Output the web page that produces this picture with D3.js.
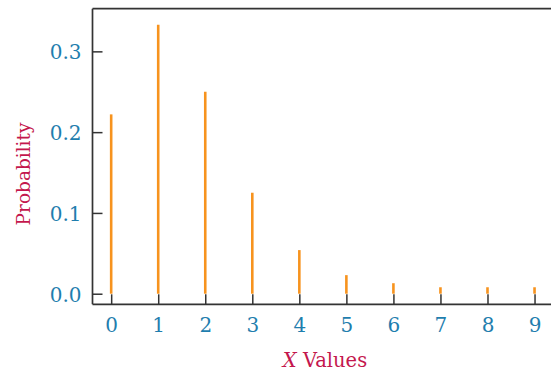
<!DOCTYPE html>
<html>
<head>
<meta charset="utf-8">
<script src="https://cdn.jsdelivr.net/npm/d3@7"></script>
<style>
  html, body { margin: 0; padding: 0; background: #fff; }
  svg { display: block; }
</style>
</head>
<body>
<svg id="chart" width="551" height="373"></svg>
<script>
const xValues = [0, 1, 2, 3, 4, 5, 6, 7, 8, 9];
const probabilities = [0.222, 0.333, 0.25, 0.125, 0.054, 0.023, 0.013, 0.008, 0.008, 0.008];
const yTicks = [0.0, 0.1, 0.2, 0.3];
const xTicks = [0, 1, 2, 3, 4, 5, 6, 7, 8, 9];
const xTitle = "Values";
const xTitleVar = "X";
const yTitle = "Probability";

(function () {
const svg = d3.select("#chart");
const pLeft = 92.5, pRight = 551, pTop = 8.7, pBottom = 304.3;

const x = d3.scaleLinear().domain([-0.397, 9.35]).range([pLeft, pRight]);
const y = d3.scaleLinear().domain([-0.0131, 0.3528]).range([pBottom, pTop]);

const axisColor = "#333333";
const tickColor = "#1f7eae";
const titleColor = "#c4174d";
const barColor = "#f7931e";
const font = "'DejaVu Serif', serif";

// y axis (ticks inward)
const yAxis = d3.axisRight(y).tickValues(yTicks).tickSize(10).tickFormat(d3.format(".1f"));
const gy = svg.append("g").attr("transform", `translate(${pLeft},0)`).call(yAxis);
gy.select(".domain").remove();
gy.selectAll(".tick line").attr("stroke", axisColor).attr("stroke-width", 1.5);
gy.selectAll(".tick text")
  .attr("x", -11).attr("text-anchor", "end").attr("dy", "0.38em")
  .attr("fill", tickColor).style("font-family", font).style("font-size", "20px");

// x axis (ticks inward)
const xAxis = d3.axisTop(x).tickValues(xTicks).tickSize(10).tickFormat(d3.format("d"));
const gx = svg.append("g").attr("transform", `translate(0,${pBottom})`).call(xAxis);
gx.select(".domain").remove();
gx.selectAll(".tick line").attr("stroke", axisColor).attr("stroke-width", 1.5);
gx.selectAll(".tick text")
  .attr("y", 27.5).attr("dy", 0).attr("text-anchor", "middle")
  .attr("fill", tickColor).style("font-family", font).style("font-size", "20px");

// stems
svg.append("g").selectAll("line").data(xValues).join("line")
  .attr("x1", (d) => x(d)).attr("x2", (d) => x(d))
  .attr("y1", y(0)).attr("y2", (d, i) => y(probabilities[i]))
  .attr("stroke", barColor).attr("stroke-width", 2.6);

// frame: left, top, bottom
const frame = svg.append("g").attr("stroke", axisColor).attr("stroke-width", 1.7).attr("fill", "none");
frame.append("line").attr("x1", pLeft).attr("x2", pLeft).attr("y1", pTop).attr("y2", pBottom);
frame.append("line").attr("x1", pLeft).attr("x2", pRight).attr("y1", pTop).attr("y2", pTop);
frame.append("line").attr("x1", pLeft).attr("x2", pRight).attr("y1", pBottom).attr("y2", pBottom);

// titles
const xt = svg.append("text")
  .attr("x", 325).attr("y", 366.5).attr("text-anchor", "middle")
  .attr("fill", titleColor).style("font-family", font).style("font-size", "19.5px");
xt.append("tspan").style("font-style", "italic").text(xTitleVar);
xt.append("tspan").text(" " + xTitle);

svg.append("text")
  .attr("transform", `translate(30,174) rotate(-90)`)
  .attr("text-anchor", "middle")
  .attr("fill", titleColor).style("font-family", font).style("font-size", "18.5px")
  .text(yTitle);
})();
</script>
</body>
</html>
